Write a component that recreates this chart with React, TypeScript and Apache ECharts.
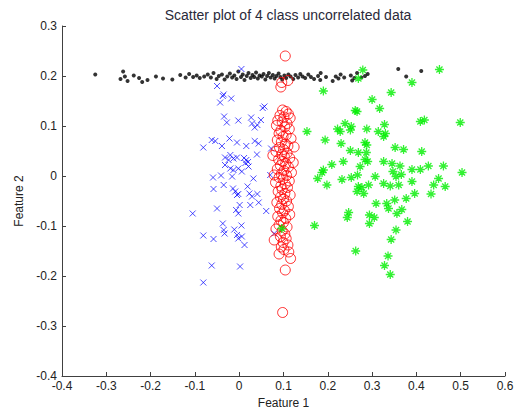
import React, { useEffect, useRef } from "react";
import * as echarts from "echarts";

// Class 1: thin horizontal band near y = 0.2
const class1Points: number[][] = [
  [-0.325, 0.203], [-0.268, 0.194], [-0.262, 0.209], [-0.258, 0.199], [-0.252, 0.19],
  [-0.238, 0.201], [-0.226, 0.196], [-0.219, 0.188], [-0.207, 0.192], [-0.188, 0.199],
  [-0.172, 0.195], [-0.151, 0.193], [-0.133, 0.202], [-0.121, 0.197], [-0.113, 0.204],
  [-0.104, 0.198], [-0.096, 0.201], [-0.089, 0.196], [-0.079, 0.199], [-0.071, 0.203],
  [-0.064, 0.197], [-0.058, 0.206], [-0.051, 0.194], [-0.046, 0.2], [-0.039, 0.203],
  [-0.033, 0.193], [-0.027, 0.199], [-0.021, 0.205], [-0.016, 0.197], [-0.011, 0.201],
  [-0.006, 0.194], [-0.002, 0.209], [0.004, 0.198], [0.008, 0.203], [0.012, 0.192],
  [0.017, 0.2], [0.021, 0.206], [0.026, 0.196], [0.03, 0.202], [0.034, 0.198],
  [0.038, 0.207], [0.042, 0.195], [0.046, 0.201], [0.051, 0.199], [0.055, 0.204],
  [0.059, 0.193], [0.063, 0.2], [0.067, 0.206], [0.071, 0.197], [0.076, 0.202],
  [0.08, 0.195], [0.084, 0.2], [0.089, 0.205], [0.093, 0.198], [0.097, 0.193],
  [0.102, 0.201], [0.106, 0.196], [0.111, 0.203], [0.116, 0.199], [0.122, 0.194],
  [0.127, 0.202], [0.133, 0.197], [0.138, 0.204], [0.143, 0.199], [0.149, 0.196],
  [0.156, 0.203], [0.162, 0.198], [0.169, 0.194], [0.178, 0.2], [0.183, 0.192],
  [0.184, 0.206], [0.196, 0.198], [0.211, 0.19], [0.218, 0.199], [0.224, 0.195],
  [0.229, 0.203], [0.237, 0.197], [0.252, 0.201], [0.255, 0.191], [0.26, 0.196],
  [0.266, 0.206], [0.276, 0.197], [0.284, 0.2], [0.29, 0.204], [0.359, 0.214],
  [0.377, 0.199], [0.411, 0.21],
];

// Class 2: blue crosses centred near the origin
const class2Points: number[][] = [
  [-0.05, 0.18], [0.005, 0.214], [-0.035, 0.163], [-0.037, 0.16], [-0.018, 0.155],
  [-0.043, 0.147], [0.057, 0.139], [0.053, 0.136], [-0.034, 0.119], [0.027, 0.117],
  [-0.028, 0.107], [-0.002, 0.111], [0.029, 0.105], [0.049, 0.112], [0.041, 0.102],
  [0.035, 0.097], [-0.062, 0.072], [-0.054, 0.07], [-0.022, 0.075], [-0.039, 0.06],
  [-0.005, 0.067], [0.035, 0.07], [0.044, 0.065], [-0.081, 0.057], [0.016, 0.06],
  [0.072, 0.055], [-0.02, 0.042], [0.04, 0.043], [-0.032, 0.037], [-0.024, 0.032],
  [-0.013, 0.035], [0.016, 0.032], [0.011, 0.036], [0.02, 0.028], [0.014, 0.026],
  [-0.005, 0.037], [-0.032, 0.022], [-0.02, 0.015], [-0.013, 0.012], [-0.002, 0.015],
  [0.006, 0.009], [0.021, 0.019], [-0.059, -0.003], [-0.041, 0.001], [-0.016, -0.001],
  [0.032, -0.005], [0.07, 0.002], [-0.035, -0.018], [-0.058, -0.026], [-0.014, -0.025],
  [-0.009, -0.031], [0.019, -0.021], [0.023, -0.035], [0.041, -0.036], [-0.005, -0.038],
  [-0.002, -0.036], [0.029, -0.041], [-0.105, -0.075], [-0.05, -0.065], [0.001, -0.058],
  [-0.007, -0.068], [-0.002, -0.075], [0.025, -0.058], [0.044, -0.053], [0.061, -0.07],
  [-0.037, -0.095], [0.005, -0.099], [-0.035, -0.108], [-0.033, -0.115], [-0.011, -0.107],
  [-0.005, -0.118], [0.006, -0.121], [-0.002, -0.125], [-0.081, -0.119], [-0.058, -0.126],
  [0.012, -0.138], [0.079, -0.115], [-0.062, -0.179], [0.002, -0.181], [-0.081, -0.213],
];

// Class 3: red circles in a narrow vertical strip near x = 0.1
const class3Points: number[][] = [
  [0.104, 0.24], [0.096, 0.187], [0.11, 0.191], [0.094, 0.178],
  [0.098, 0.132], [0.106, 0.129], [0.111, 0.124], [0.092, 0.121], [0.101, 0.118],
  [0.115, 0.116], [0.087, 0.111], [0.097, 0.108], [0.108, 0.105], [0.084, 0.101],
  [0.103, 0.098], [0.113, 0.094], [0.094, 0.091], [0.09, 0.085], [0.106, 0.082],
  [0.099, 0.079], [0.117, 0.075], [0.086, 0.072], [0.095, 0.068], [0.104, 0.064],
  [0.11, 0.06], [0.091, 0.057], [0.1, 0.053], [0.083, 0.049], [0.108, 0.046],
  [0.096, 0.043], [0.102, 0.039], [0.114, 0.036], [0.089, 0.033], [0.098, 0.029],
  [0.105, 0.025], [0.093, 0.021], [0.111, 0.018], [0.086, 0.014], [0.101, 0.011],
  [0.118, 0.007], [0.095, 0.004], [0.107, 0.001], [0.09, -0.003], [0.099, -0.006],
  [0.113, -0.01], [0.082, -0.013], [0.104, -0.016], [0.094, -0.02], [0.109, -0.023],
  [0.097, -0.027], [0.088, -0.031], [0.103, -0.035], [0.115, -0.038], [0.093, -0.042],
  [0.1, -0.046], [0.107, -0.05], [0.085, -0.053], [0.096, -0.057], [0.111, -0.061],
  [0.091, -0.065], [0.102, -0.069], [0.098, -0.074], [0.114, -0.077], [0.087, -0.081],
  [0.105, -0.085], [0.094, -0.089], [0.1, -0.093], [0.09, -0.098], [0.108, -0.102],
  [0.083, -0.106], [0.097, -0.11], [0.103, -0.116], [0.093, -0.121], [0.106, -0.125],
  [0.079, -0.128], [0.099, -0.133], [0.11, -0.138], [0.095, -0.142], [0.101, -0.147],
  [0.112, -0.152], [0.09, -0.156], [0.116, -0.165], [0.104, -0.188], [0.098, -0.273],
  [0.124, 0.058], [0.122, 0.027], [0.076, 0.041], [0.079, 0.002],
];

// Class 4: green stars spread to the right
const class4Points: number[][] = [
  [0.279, 0.212], [0.269, 0.195], [0.452, 0.213], [0.39, 0.187], [0.19, 0.17],
  [0.343, 0.167], [0.3, 0.153], [0.317, 0.135], [0.262, 0.131], [0.266, 0.129],
  [0.409, 0.109], [0.418, 0.112], [0.499, 0.107], [0.239, 0.105], [0.328, 0.103],
  [0.222, 0.094], [0.228, 0.089], [0.253, 0.099], [0.251, 0.092], [0.288, 0.094],
  [0.314, 0.089], [0.33, 0.085], [0.326, 0.079], [0.153, 0.089], [0.194, 0.072],
  [0.23, 0.065], [0.284, 0.067], [0.288, 0.062], [0.352, 0.057], [0.371, 0.053],
  [0.412, 0.049], [0.251, 0.051], [0.269, 0.047], [0.287, 0.047], [0.284, 0.033],
  [0.29, 0.029], [0.235, 0.029], [0.209, 0.023], [0.273, 0.019], [0.326, 0.029],
  [0.345, 0.025], [0.363, 0.02], [0.39, 0.013], [0.409, 0.013], [0.427, 0.02],
  [0.461, 0.02], [0.503, 0.007], [0.19, 0.012], [0.187, 0.007], [0.267, 0.002],
  [0.347, 0.009], [0.354, -0.001], [0.366, 0.003], [0.177, -0.005], [0.232, -0.007],
  [0.253, -0.003], [0.307, -0.001], [0.39, -0.011], [0.45, -0.005], [0.198, -0.018],
  [0.269, -0.021], [0.292, -0.018], [0.326, -0.015], [0.341, -0.02], [0.36, -0.018],
  [0.439, -0.018], [0.465, -0.021], [0.266, -0.031], [0.281, -0.035], [0.277, -0.023],
  [0.396, -0.035], [0.433, -0.036], [0.309, -0.055], [0.333, -0.055], [0.337, -0.065],
  [0.351, -0.048], [0.377, -0.045], [0.367, -0.067], [0.356, -0.075], [0.247, -0.073],
  [0.244, -0.083], [0.294, -0.078], [0.305, -0.083], [0.294, -0.095], [0.38, -0.091],
  [0.17, -0.099], [0.354, -0.108], [0.343, -0.127], [0.263, -0.15], [0.336, -0.16],
  [0.328, -0.179], [0.341, -0.197], [0.096, -0.105],
];

const xTickMin = -0.4;
const xTickMax = 0.6;
const yTickMin = -0.4;
const yTickMax = 0.3;
const tickStep = 0.1;

const titleText = "Scatter plot of 4 class uncorrelated data";
const xLabel = "Feature 1";
const yLabel = "Feature 2";

const FONT = "Liberation Sans, Arial, sans-serif";
const AXIS_COLOR = "#404040";

const crossSymbol = "path://M0,0L10,10M10,0L0,10";
const starSymbol = "path://M5,0L5,10M0,5L10,5M1.6,1.6L8.4,8.4M8.4,1.6L1.6,8.4";

const fmt = (v: number) => {
  const s = parseFloat(v.toFixed(1));
  return (s === 0 ? 0 : s).toString();
};

export default function App() {
  const ref = useRef<HTMLDivElement>(null);

  useEffect(() => {
    if (!ref.current) return;
    const chart = echarts.init(ref.current, undefined, { renderer: "svg" });
    const axisCommon = {
      type: "value" as const,
      interval: tickStep,
      splitLine: { show: false },
      axisLine: { show: true, onZero: false, lineStyle: { color: AXIS_COLOR, width: 1 } },
      axisTick: { show: true, inside: true, length: 4, lineStyle: { color: AXIS_COLOR } },
      axisLabel: { color: "#222", fontFamily: FONT, fontSize: 12, formatter: fmt },
      nameLocation: "middle" as const,
      nameTextStyle: { color: "#222", fontFamily: FONT, fontSize: 12 },
    };
    chart.setOption({
      animation: false,
      backgroundColor: "#fff",
      title: {
        text: titleText,
        left: 283,
        textAlign: "center",
        top: 3,
        textStyle: { color: "#2a2a3a", fontFamily: FONT, fontSize: 14, fontWeight: "normal" },
      },
      grid: { left: 62, right: 16, top: 26, bottom: 38, containLabel: false },
      xAxis: {
        ...axisCommon,
        min: xTickMin,
        max: xTickMax,
        name: xLabel,
        nameGap: 20,
        axisLabel: { ...axisCommon.axisLabel, margin: 4 },
      },
      yAxis: {
        ...axisCommon,
        min: yTickMin,
        max: yTickMax,
        name: yLabel,
        nameGap: 34,
        axisLabel: { ...axisCommon.axisLabel, margin: 5 },
      },
      series: [
        {
          type: "scatter",
          data: class1Points,
          symbol: "circle",
          symbolSize: 4,
          itemStyle: { color: "#000" },
        },
        {
          type: "scatter",
          data: class2Points,
          symbol: crossSymbol,
          symbolSize: 6,
          itemStyle: { color: "none", borderColor: "#0000ff", borderWidth: 1, opacity: 0.7 },
        },
        {
          type: "scatter",
          data: class3Points,
          symbol: "circle",
          symbolSize: 10,
          itemStyle: { color: "transparent", borderColor: "#ff0000", borderWidth: 1 },
        },
        {
          type: "scatter",
          data: class4Points,
          symbol: starSymbol,
          symbolSize: 9,
          itemStyle: { color: "none", borderColor: "#00ee00", borderWidth: 1.3 },
        },
      ],
    });
    return () => chart.dispose();
  }, []);

  return (
    <div
      ref={ref}
      style={{ position: "fixed", left: 0, top: 0, width: 521, height: 414 }}
    />
  );
}
